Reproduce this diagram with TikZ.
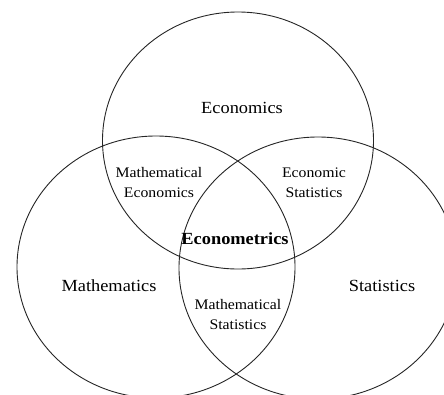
\documentclass[tikz,border=0pt]{standalone}
\usepackage{fontspec}
\setmainfont{Liberation Serif}[FakeStretch=1.08]
\begin{document}
\begin{tikzpicture}[x=1pt,y=-1pt,
  ring/.style={draw=black!85,line width=0.9pt},
  biglabel/.style={font=\fontsize{17}{20}\selectfont,inner sep=0pt},
  smalllabel/.style={font=\fontsize{14.6}{20}\selectfont,align=center,inner sep=0pt}]
\useasboundingbox (0,0) rectangle (444,394);
\clip (0,0) rectangle (444,394);
\fill[white] (0,0) rectangle (444,394);
\draw[ring] (238,140.5) ellipse [x radius=135.5, y radius=128.5];
\draw[ring] (156,267) ellipse [x radius=139, y radius=131];
\draw[ring] (318,268) ellipse [x radius=139, y radius=131];
\node[biglabel] (eco) at (242,108) {Economics};
\node[biglabel] (math) at (109,286) {Mathematics};
\node[biglabel] (stat) at (382,286) {Statistics};
\node[biglabel,font=\fontsize{17}{20}\selectfont\bfseries] (metrics) at (235,239) {Econometrics};
\node[smalllabel] (mathecon) at (159,183) {Mathematical\\Economics};
\node[smalllabel] (econstat) at (314,183) {Economic\\Statistics};
\node[smalllabel] (mathstat) at (238,314) {Mathematical\\Statistics};
\end{tikzpicture}
\end{document}
